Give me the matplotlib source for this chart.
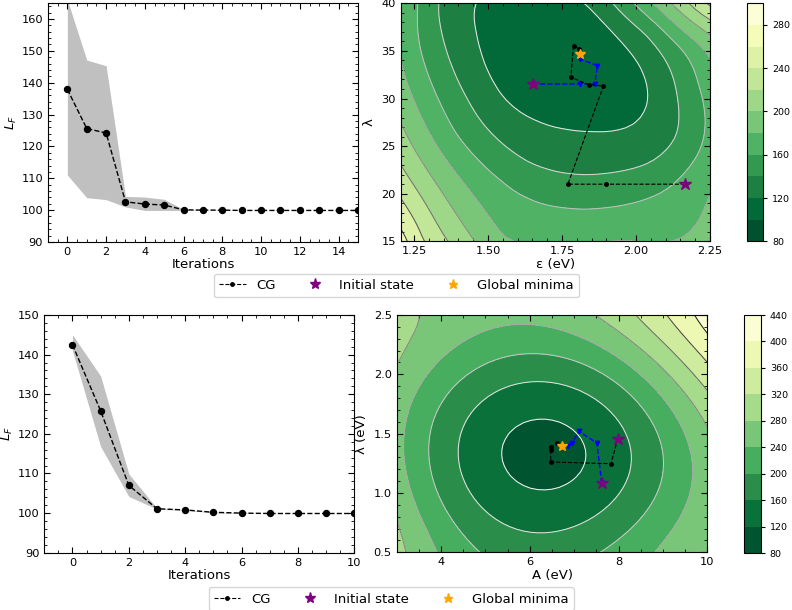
import numpy as np
import matplotlib
matplotlib.use("Agg")
import matplotlib.pyplot as plt
from matplotlib.lines import Line2D
from matplotlib.ticker import AutoMinorLocator

# ---------------- loss histories (mean and spread over runs) ----------------
iters_top = list(range(16))
loss_top = [137.9, 125.6, 124.2, 102.6, 101.9, 101.6, 100.1, 100.0, 100.0,
            99.9, 99.9, 99.9, 99.9, 99.9, 99.9, 99.9]
upper_top = [166.0, 147.1, 145.3, 104.3, 104.1, 103.4, 100.2, 100.0, 100.0,
             99.9, 99.9, 99.9, 99.9, 99.9, 99.9, 99.9]
lower_top = [111.0, 103.9, 103.3, 101.0, 99.9, 99.9, 99.9, 99.9, 99.9,
             99.9, 99.9, 99.9, 99.9, 99.9, 99.9, 99.9]

iters_bot = list(range(11))
loss_bot = [142.5, 125.8, 107.0, 101.1, 100.8, 100.2, 100.0, 99.9, 99.9, 99.9, 99.9]
upper_bot = [145.0, 134.6, 109.9, 101.2, 100.9, 100.3, 100.0, 99.9, 99.9, 99.9, 99.9]
lower_bot = [141.0, 116.8, 104.2, 101.0, 100.7, 100.1, 99.9, 99.9, 99.9, 99.9, 99.9]

# ---------------- loss landscape over (eps, lambda): sampled iso-loss points ----------------
eps_range = (1.205, 2.25)
lam_range = (15.0, 40.0)
levels_top = np.arange(80, 301, 20)
top_iso = {
    100: [(1.75, 34.5), (1.78, 33.0), (1.72, 36.0)],
    108: [(1.66, 38.0), (1.93, 29.5)],
    112: [(1.64, 40.3)],
    120: [(1.458, 40.3), (1.464, 36.85), (1.492, 33.34), (1.548, 30.19), (1.615, 28.45),
          (1.67, 27.7), (1.767, 26.87), (1.856, 26.7), (1.935, 26.8), (2.014, 28.1),
          (2.042, 29.84), (2.036, 31.6), (1.969, 35.1), (1.823, 40.3)],
    140: [(1.329, 40.3), (1.346, 36.85), (1.379, 33.34), (1.435, 29.84), (1.492, 27.04),
          (1.559, 24.94), (1.637, 23.19), (1.727, 22.31), (1.823, 21.96), (1.935, 22.31),
          (2.047, 23.19), (2.115, 24.94), (2.143, 26.34), (2.14, 29.84), (2.11, 33.34),
          (2.036, 36.85), (1.913, 40.3)],
    160: [(1.25, 40.3), (1.261, 36.85), (1.289, 33.34), (1.334, 29.84), (1.39, 26.34),
          (1.458, 23.89), (1.548, 21.44), (1.637, 19.69), (1.727, 18.63), (1.823, 18.29),
          (1.935, 18.63), (2.047, 19.69), (2.16, 22.14), (2.216, 24.59), (2.233, 27.5),
          (2.205, 31.6), (2.16, 35.1), (2.081, 37.5), (1.981, 40.3)],
    180: [(1.22, 40.3), (1.205, 34.0), (1.553, 15.0), (1.75, 15.2),
          (1.95, 15.3), (2.14, 15.0), (2.25, 20.5), (2.25, 34.5), (2.15, 37.3),
          (2.048, 40.3)],
    200: [(1.458, 15.0), (1.205, 27.5), (2.105, 40.3), (2.25, 36.8)],
    220: [(1.368, 15.0), (1.205, 23.0), (2.172, 40.3), (2.25, 38.4)],
    240: [(1.273, 15.0), (1.205, 19.5), (2.226, 40.3), (2.25, 39.6)],
    272: [(1.205, 15.0)],
    250: [(2.25, 40.3)],
    186: [(2.25, 15.0)],
    183: [(1.205, 40.3)],
}

# ---------------- loss landscape over (A, lambda) ----------------
A_range = (3.0, 10.0)
lamb_range = (0.5, 2.5)
levels_bot = np.arange(80, 441, 40)
bot_iso = {
    100: [(6.35, 1.32), (6.45, 1.35), (6.30, 1.30)],
    120: [(5.396, 1.308), (5.60, 1.098), (5.94, 1.033), (6.62, 1.07), (7.15, 1.168),
          (7.52, 1.308), (7.60, 1.448), (7.45, 1.533), (7.07, 1.617), (6.24, 1.645),
          (5.64, 1.547)],
    160: [(4.43, 1.308), (4.58, 1.56), (4.88, 1.757), (5.49, 1.90), (6.24, 1.91),
          (7.0, 1.81), (7.75, 1.645), (8.24, 1.448), (8.32, 1.28), (8.05, 1.056),
          (7.45, 0.83), (6.77, 0.72), (6.02, 0.69), (5.26, 0.83), (4.66, 1.056)],
    200: [(3.77, 1.31), (3.90, 1.59), (4.28, 1.925), (5.11, 2.12), (6.02, 2.15),
          (6.85, 2.065), (7.75, 1.87), (8.58, 1.56), (8.96, 1.224), (8.81, 0.944),
          (8.20, 0.663), (7.60, 0.50), (4.13, 0.803), (4.73, 0.55)],
    240: [(3.18, 1.31), (3.37, 1.785), (4.13, 2.234), (5.11, 2.40), (6.02, 2.416),
          (7.15, 2.318), (8.35, 2.065), (9.26, 1.70), (9.56, 1.224), (3.6, 0.5)],
    280: [(3.0, 0.69), (3.45, 0.5), (3.0, 2.29), (3.4, 2.5), (7.45, 2.5), (10.0, 1.53)],
    320: [(8.58, 2.5), (10.0, 1.9)],
    360: [(9.19, 2.5), (10.0, 2.15)],
    400: [(9.64, 2.5), (10.0, 2.35)],
    430: [(10.0, 2.5)],
    300: [(3.0, 2.5)],
    275: [(10.0, 0.5)],
    295: [(3.0, 0.5)],
}

# ---------------- optimisation trajectories ----------------
cg_top_eps = [2.165, 1.899, 1.770, 1.890, 1.840, 1.780, 1.789, 1.807]
cg_top_lam = [21.0, 21.0, 21.0, 31.31, 31.45, 32.23, 35.51, 35.23]
alt_top_eps = [1.651, 1.812, 1.861, 1.870, 1.812]
alt_top_lam = [31.52, 31.52, 31.52, 33.45, 34.12]
start_top_eps = [2.165, 1.651]
start_top_lam = [21.0, 31.52]
gmin_top = (1.812, 34.64)

cg_bot_A = [7.98, 7.83, 6.47, 6.47, 6.48, 6.62]
cg_bot_lam = [1.457, 1.247, 1.261, 1.365, 1.385, 1.42]
alt_bot_A = [7.62, 7.51, 7.11, 6.95, 6.86]
alt_bot_lam = [1.084, 1.421, 1.519, 1.421, 1.40]
start_bot_A = [7.98, 7.62]
start_bot_lam = [1.457, 1.084]
gmin_bot = (6.73, 1.398)


def _samples(iso):
    pts = [(x, y, lev) for lev, p in iso.items() for x, y in p]
    return map(np.array, zip(*pts))


def _grid(xr, yr, n=45):
    return np.meshgrid(np.linspace(xr[0], xr[1], n), np.linspace(yr[0], yr[1], n))


def spline_landscape(iso, xr, yr, aspect, smooth):
    """Smoothing thin-plate spline through the sampled iso-loss points."""
    def norm(x, y):
        return ((np.asarray(x) - xr[0]) / (xr[1] - xr[0]) * aspect,
                (np.asarray(y) - yr[0]) / (yr[1] - yr[0]))

    def kernel(d):
        with np.errstate(divide="ignore", invalid="ignore"):
            k = d * d * np.log(d)
        return np.nan_to_num(k)

    xs, ys, zs = _samples(iso)
    u, v = norm(xs, ys)
    m = len(zs)
    K = kernel(np.hypot(u[:, None] - u[None, :], v[:, None] - v[None, :]))
    P = np.column_stack([np.ones(m), u, v])
    A = np.zeros((m + 3, m + 3))
    A[:m, :m] = K + smooth * np.eye(m)
    A[:m, m:] = P
    A[m:, :m] = P.T
    sol = np.linalg.solve(A, np.concatenate([zs, np.zeros(3)]))
    w, a = sol[:m], sol[m:]

    X, Y = _grid(xr, yr)
    gu, gv = norm(X, Y)
    D = np.hypot(gu[..., None] - u, gv[..., None] - v)
    Z = kernel(D) @ w + a[0] + a[1] * gu + a[2] * gv
    return X, Y, np.clip(Z, 100.05, None)


def poly_landscape(iso, xr, yr, deg=4, ridge=1e-4):
    """Least-squares polynomial surface through the sampled iso-loss points."""
    cx, sx = np.mean(xr), (xr[1] - xr[0]) / 2
    cy, sy = np.mean(yr), (yr[1] - yr[0]) / 2

    def basis(x, y):
        u, v = (np.asarray(x) - cx) / sx, (np.asarray(y) - cy) / sy
        return np.stack([u ** i * v ** j for i in range(deg + 1)
                         for j in range(deg + 1 - i)], axis=-1)

    xs, ys, zs = _samples(iso)
    M = basis(xs, ys)
    k = M.shape[1]
    A = np.vstack([M, np.sqrt(ridge) * np.eye(k)])
    coef, *_ = np.linalg.lstsq(A, np.concatenate([zs, np.zeros(k)]), rcond=None)
    X, Y = _grid(xr, yr)
    return X, Y, np.clip(basis(X, Y) @ coef, 100.05, None)


def style_axes(ax):
    ax.xaxis.set_minor_locator(AutoMinorLocator())
    ax.yaxis.set_minor_locator(AutoMinorLocator())
    ax.tick_params(which="both", direction="in", top=True, right=True, labelsize=8.2)
    ax.tick_params(which="major", length=4)
    ax.tick_params(which="minor", length=2)


def loss_panel(ax, it, mean, lo, hi, xlim, ylim, yticks):
    ax.fill_between(it, lo, hi, color="silver", linewidth=0)
    ax.plot(it, mean, "k--", marker="o", markersize=4.3, linewidth=1.0)
    ax.set_xlim(*xlim)
    ax.set_ylim(*ylim)
    ax.set_yticks(yticks)
    ax.set_xlabel("Iterations", fontsize=9.5, labelpad=1)
    ax.set_ylabel(r"$L_F$", fontsize=9.5, labelpad=2)
    style_axes(ax)


def landscape_panel(ax, cax, X, Y, Z, levels, cbticks):
    cf = ax.contourf(X, Y, Z, levels=levels, cmap="YlGn_r")
    lines = levels[levels > 100]
    ax.contour(X, Y, Z, levels=lines, cmap="Greys",
               norm=plt.Normalize(levels[0], levels[-1]), linewidths=0.75)
    cb = fig.colorbar(cf, cax=cax, ticks=cbticks)
    cb.ax.tick_params(labelsize=6.8, length=3)
    cb.outline.set_linewidth(0.8)
    style_axes(ax)
    return cf


def paths(ax, cgx, cgy, altx, alty, sx, sy, gmin):
    ax.plot(altx, alty, color="blue", linestyle="--", marker="v", markersize=3.2,
            linewidth=1.0)
    ax.plot(cgx, cgy, color="black", linestyle="--", marker=".", markersize=5,
            linewidth=0.8)
    ax.plot(sx, sy, linestyle="none", marker="*", color="purple", markersize=9)
    ax.plot([gmin[0]], [gmin[1]], linestyle="none", marker="*", color="orange",
            markersize=7.5)


fig = plt.figure(figsize=(7.92, 6.10), dpi=100)

ax1 = fig.add_axes([0.0606, 0.6033, 0.3914, 0.3918])
ax2 = fig.add_axes([0.5059, 0.6044, 0.3905, 0.3902])
cax1 = fig.add_axes([0.9436, 0.6044, 0.0202, 0.3902])
ax3 = fig.add_axes([0.0559, 0.0939, 0.3914, 0.3897])
ax4 = fig.add_axes([0.5009, 0.0946, 0.3922, 0.3890])
cax2 = fig.add_axes([0.9394, 0.0934, 0.0211, 0.3902])

loss_panel(ax1, iters_top, loss_top, lower_top, upper_top, (-1, 15), (90, 165),
           np.arange(90, 161, 10))
ax1.set_xticks(np.arange(0, 15, 2))
loss_panel(ax3, iters_bot, loss_bot, lower_bot, upper_bot, (-1, 10), (90, 150),
           np.arange(90, 151, 10))
ax3.set_xticks(np.arange(0, 11, 2))

Xt, Yt, Zt = spline_landscape(top_iso, eps_range, lam_range, aspect=1.3, smooth=0.012)
landscape_panel(ax2, cax1, Xt, Yt, Zt, levels_top, np.arange(80, 300, 40))
paths(ax2, cg_top_eps, cg_top_lam, alt_top_eps, alt_top_lam,
      start_top_eps, start_top_lam, gmin_top)
ax2.set_xlim(*eps_range)
ax2.set_ylim(*lam_range)
ax2.set_xticks([1.25, 1.50, 1.75, 2.00, 2.25])
ax2.set_yticks(np.arange(15, 41, 5))
ax2.set_xlabel("ε (eV)", fontsize=9.5, labelpad=1)
ax2.set_ylabel("λ", fontsize=9.5)

Xb, Yb, Zb = poly_landscape(bot_iso, A_range, lamb_range)
landscape_panel(ax4, cax2, Xb, Yb, Zb, levels_bot, np.arange(80, 441, 40))
paths(ax4, cg_bot_A, cg_bot_lam, alt_bot_A, alt_bot_lam,
      start_bot_A, start_bot_lam, gmin_bot)
ax4.set_xlim(*A_range)
ax4.set_ylim(*lamb_range)
ax4.set_xticks([4, 6, 8, 10])
ax4.set_yticks([0.5, 1.0, 1.5, 2.0, 2.5])
ax4.set_xlabel("A (eV)", fontsize=9.5, labelpad=1)
ax4.set_ylabel("λ (eV)", fontsize=9.5)

handles = [
    Line2D([], [], color="black", linestyle="--", marker=".", markersize=5, linewidth=0.8),
    Line2D([], [], color="purple", linestyle="none", marker="*", markersize=8),
    Line2D([], [], color="orange", linestyle="none", marker="*", markersize=6.5),
]
labels = ["CG", "Initial state", "Global minima"]
for yc, xc in [(0.532, 0.5006), (0.018, 0.494)]:
    fig.legend(handles, labels, loc="center", bbox_to_anchor=(xc, yc), ncol=3,
               fontsize=9.5, frameon=True, borderpad=0.4, handlelength=2.0,
               columnspacing=2.0)

fig.savefig("out.png", dpi=100)
